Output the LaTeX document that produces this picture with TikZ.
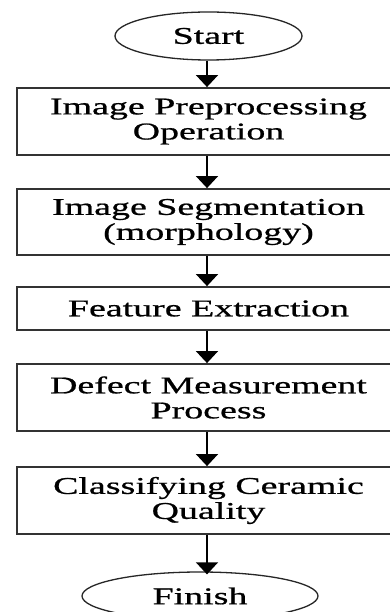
\documentclass[tikz,border=0pt]{standalone}
\usepackage{fontspec}
\setmainfont{Liberation Serif}[FakeStretch=1.58,FakeBold=0.8]
\usetikzlibrary{shapes.geometric,arrows.meta}
\begin{document}
\begin{tikzpicture}[x=1pt,y=-1pt,
  txt/.style={font=\fontsize{24}{25}\selectfont, align=center, text=black},
  stepbox/.style={txt, draw=black!80, line width=1.8pt, minimum width=383pt, inner sep=0pt},
  term/.style={txt, ellipse, draw=black!85, line width=1.3pt, inner sep=0pt, minimum height=48pt},
  arr/.style={draw=black, line width=1.4pt, -{Triangle[length=12pt,width=22pt]}}]
\useasboundingbox (0,0) rectangle (389,612);
\fill[white] (0,0) rectangle (389,612);
\node[term, minimum width=187pt] (start) at (208.5,36) {Start};
\node[stepbox, minimum height=67pt] (b1) at (208.5,121.5) {Image Preprocessing\\Operation};
\node[stepbox, minimum height=66pt] (b2) at (208.5,222) {Image Segmentation\\(morphology)};
\node[stepbox, minimum height=43pt] (b3) at (208.5,308.5) {Feature Extraction};
\node[stepbox, minimum height=67pt] (b4) at (208.5,397.5) {Defect Measurement\\Process};
\node[stepbox, minimum height=67pt] (b5) at (208.5,500.5) {Classifying Ceramic\\Quality};
\node[term, minimum width=236pt] (fin) at (200,596) {Finish};
\coordinate (ax) at (207,0);
\draw[arr] (start.south -| ax) -- (b1.north -| ax);
\draw[arr] (b1.south -| ax) -- (b2.north -| ax);
\draw[arr] (b2.south -| ax) -- (b3.north -| ax);
\draw[arr] (b3.south -| ax) -- (b4.north -| ax);
\draw[arr] (b4.south -| ax) -- (b5.north -| ax);
\draw[arr] (b5.south -| ax) -- ([yshift=-3pt]fin.north -| ax);
\end{tikzpicture}
\end{document}
